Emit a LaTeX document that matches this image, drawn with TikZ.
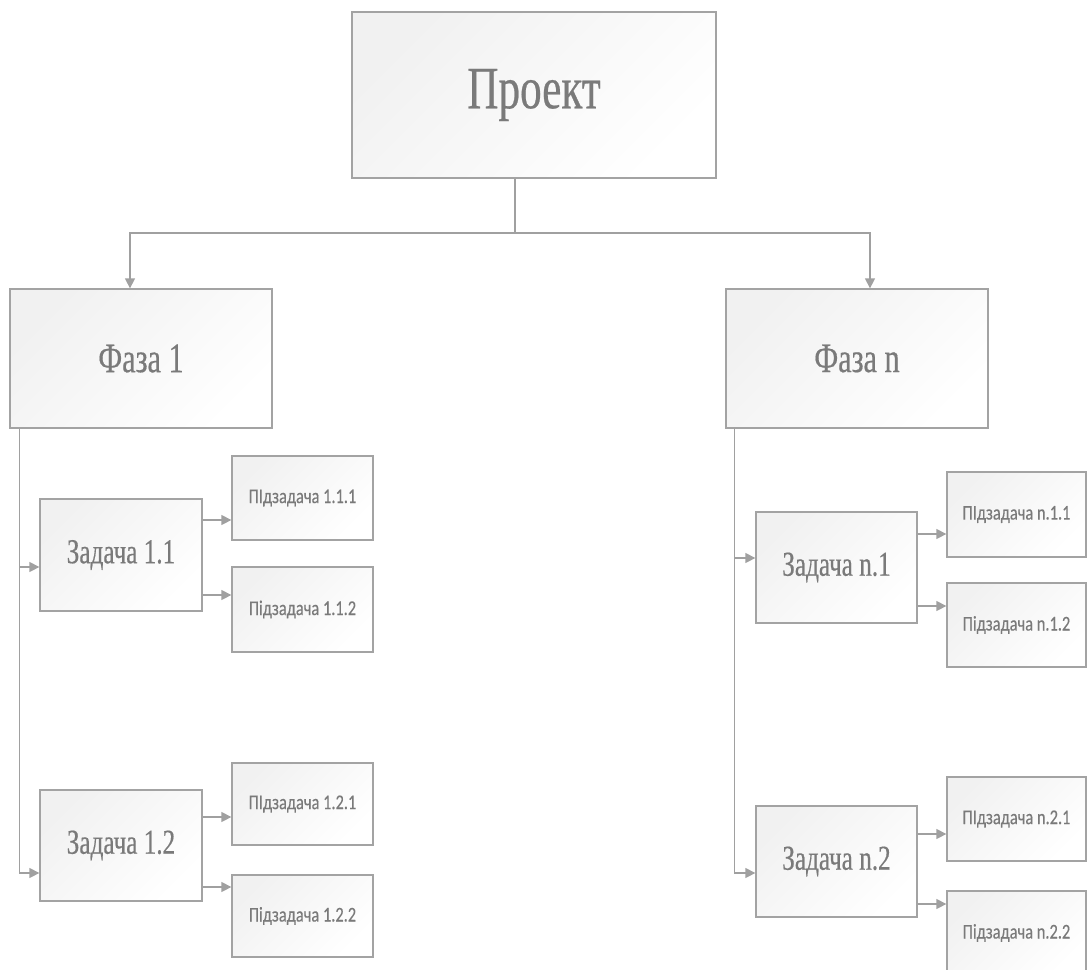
\documentclass[tikz,border=0pt]{standalone}
\usepackage{fontspec}
\usetikzlibrary{arrows.meta}
\newfontfamily\condserif[FakeStretch=0.72,FakeBold=0.4]{Liberation Serif}
\newfontfamily\subfont[FakeStretch=0.78,FakeBold=0.3]{Carlito}
\definecolor{txt}{HTML}{7A7A7A}
\definecolor{ln}{HTML}{A0A0A0}
\definecolor{bd}{HTML}{A3A3A3}
\definecolor{shd}{HTML}{F1F1F1}
\tikzset{
  box/.style={draw=bd, line width=1.3pt, rectangle, inner sep=0pt,
    top color=shd, bottom color=white, shading angle=45, text=txt, align=center},
  bigbox/.style={box, font=\condserif\fontsize{60}{70}\selectfont},
  phasebox/.style={box, font=\condserif\fontsize{42}{50}\selectfont},
  taskbox/.style={box, font=\condserif\fontsize{35}{42}\selectfont},
  subbox/.style={box, font=\subfont\fontsize{21}{25}\selectfont},
  conn/.style={draw=ln, line width=1.4pt},
  arr/.style={conn, -{Triangle[length=10pt,width=10pt]}},
}
\begin{document}
\begin{tikzpicture}[x=1pt,y=-1pt]
\useasboundingbox (0,0) rectangle (1088,970);
\begin{scope}
\clip (0,0) rectangle (1088,970);
% nodes
\node[bigbox, minimum width=364, minimum height=166] (p) at (534,95) {Проект};
\node[phasebox, minimum width=262, minimum height=139] (f1) at (141,358.5) {Фаза 1};
\node[phasebox, minimum width=262, minimum height=139] (fn) at (857,358.5) {Фаза n};
\node[taskbox, minimum width=162, minimum height=112] (t11) at (121,555) {Задача 1.1};
\node[taskbox, minimum width=162, minimum height=111] (t12) at (121,845.5) {Задача 1.2};
\node[taskbox, minimum width=161, minimum height=111] (tn1) at (836.5,567.5) {Задача n.1};
\node[taskbox, minimum width=161, minimum height=111] (tn2) at (836.5,861.5) {Задача n.2};
\node[subbox, minimum width=141, minimum height=84] (s111) at (302.5,498) {ПІдзадача 1.1.1};
\node[subbox, minimum width=141, minimum height=85] (s112) at (302.5,609.5) {Підзадача 1.1.2};
\node[subbox, minimum width=141, minimum height=82] (s121) at (302.5,804) {ПІдзадача 1.2.1};
\node[subbox, minimum width=141, minimum height=82] (s122) at (302.5,916) {Підзадача 1.2.2};
\node[subbox, minimum width=139, minimum height=85] (sn11) at (1016.5,514.5) {ПІдзадача n.1.1};
\node[subbox, minimum width=139, minimum height=84] (sn12) at (1016.5,625) {Підзадача n.1.2};
\node[subbox, minimum width=139, minimum height=84] (sn21) at (1016.5,819) {ПІдзадача n.2.1};
\node[subbox, minimum width=139, minimum height=84] (sn22) at (1016.5,933) {Підзадача n.2.2};
% top connectors
\coordinate (j) at (515,233);
\draw[conn] (p.south -| j) -- (j);
\draw[arr] (j) -| ([xshift=-11]f1.north);
\draw[arr] (j) -| ([xshift=13]fn.north);
% left trunk
\coordinate (L) at ([xshift=10]f1.south west);
\path ([yshift=-12]t11.west) coordinate (t11in);
\path ([yshift=-27.5]t12.west) coordinate (t12in);
\draw[arr] (L) |- (t12in);
\draw[arr] (L |- t11in) -- (t11in);
% right trunk
\coordinate (R) at ([xshift=9]fn.south west);
\path ([yshift=9.5]tn1.west) coordinate (tn1in);
\path ([yshift=-11.5]tn2.west) coordinate (tn2in);
\draw[arr] (R) |- (tn2in);
\draw[arr] (R |- tn1in) -- (tn1in);
% task -> subtask
\path ([yshift=35]t11.east) coordinate (a1);
\draw[arr] (a1) -- (a1 -| s111.west);
\path ([yshift=-40]t11.east) coordinate (a2);
\draw[arr] (a2) -- (a2 -| s112.west);
\path ([yshift=28.5]t12.east) coordinate (a3);
\draw[arr] (a3) -- (a3 -| s121.west);
\path ([yshift=-41.5]t12.east) coordinate (a4);
\draw[arr] (a4) -- (a4 -| s122.west);
\path ([yshift=33.5]tn1.east) coordinate (b1);
\draw[arr] (b1) -- (b1 -| sn11.west);
\path ([yshift=-38.5]tn1.east) coordinate (b2);
\draw[arr] (b2) -- (b2 -| sn12.west);
\path ([yshift=27.5]tn2.east) coordinate (b3);
\draw[arr] (b3) -- (b3 -| sn21.west);
\path ([yshift=-42.5]tn2.east) coordinate (b4);
\draw[arr] (b4) -- (b4 -| sn22.west);
\end{scope}
\end{tikzpicture}
\end{document}
